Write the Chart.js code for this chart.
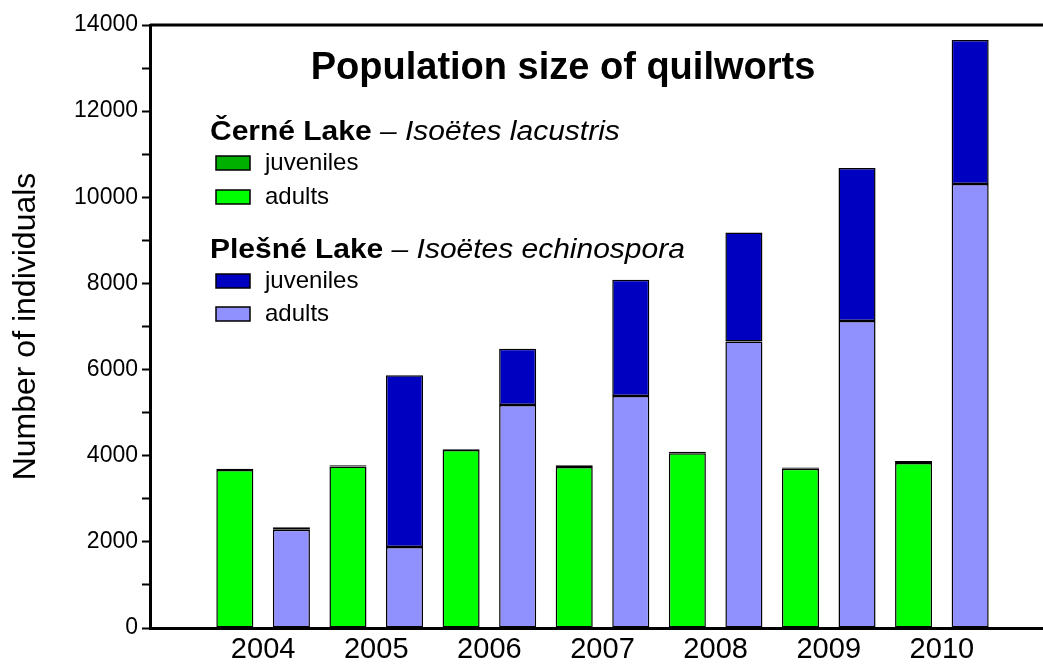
<!DOCTYPE html>
<html>
<head>
<meta charset="utf-8">
<title>Population size of quilworts</title>
<script src="https://cdn.jsdelivr.net/npm/chart.js@4/dist/chart.umd.min.js"></script>
<style>
  html, body { margin: 0; padding: 0; overflow: hidden; background: #fff; }
  canvas { display: block; }
</style>
</head>
<body>
<canvas id="quillworts" width="1060" height="664"></canvas>
<script>
const years = ['2004', '2005', '2006', '2007', '2008', '2009', '2010'];

// Černé Lake – Isoëtes lacustris
const cerneAdults = [3670, 3750, 4130, 3740, 4060, 3700, 3830];
const cerneJuveniles = [30, 30, 20, 40, 30, 25, 45];

// Plešné Lake – Isoëtes echinospora
const plesneAdults = [2280, 1880, 5180, 5385, 6650, 7130, 10310];
const plesneJuveniles = [60, 3990, 1305, 2700, 2530, 3550, 3340];

const FONT = "'Liberation Sans', Arial, Helvetica, sans-serif";

const colors = {
  cerneJuv: '#00b000',
  cerneAdu: '#00ff00',
  plesneJuv: '#0000c0',
  plesneAdu: '#9090ff'
};

// empty slot on both ends so the first group sits away from the y axis
const pad = arr => [null].concat(arr, [null]);

function barSet(label, data, color, stack) {
  return {
    label: label,
    data: pad(data),
    stack: stack,
    backgroundColor: color,
    borderColor: '#000',
    borderWidth: 1.5,
    borderSkipped: false,
    categoryPercentage: 1.0,
    barPercentage: 0.655
  };
}

// title, frame top and the two-part legend drawn over the plot
const overlayPlugin = {
  id: 'overlay',
  afterDraw(chart) {
    const ctx = chart.ctx;
    const area = chart.chartArea;
    ctx.save();

    ctx.strokeStyle = '#000';
    ctx.lineWidth = 3;
    ctx.beginPath();
    ctx.moveTo(area.left, area.top);
    ctx.lineTo(area.right, area.top);
    ctx.stroke();

    ctx.fillStyle = '#000';
    ctx.textBaseline = 'alphabetic';
    ctx.textAlign = 'center';
    ctx.font = 'bold 38px ' + FONT;
    ctx.fillText('Population size of quilworts', 563, 79);

    ctx.textAlign = 'left';
    // headings are set a little wider than normal
    const heading = (x, y, bold, rest) => {
      ctx.save();
      ctx.translate(x, y);
      ctx.scale(1.11, 1);
      ctx.font = 'bold 27px ' + FONT;
      ctx.fillText(bold, 0, 0);
      const w = ctx.measureText(bold).width;
      ctx.font = 'italic 27px ' + FONT;
      ctx.fillText(rest, w, 0);
      ctx.restore();
    };
    const item = (y, color, text) => {
      ctx.fillStyle = color;
      ctx.fillRect(216, y - 7, 34, 14);
      ctx.strokeStyle = '#000';
      ctx.lineWidth = 1.5;
      ctx.strokeRect(216, y - 7, 34, 14);
      ctx.fillStyle = '#000';
      ctx.font = '24px ' + FONT;
      ctx.textBaseline = 'middle';
      ctx.fillText(text, 265, y);
      ctx.textBaseline = 'alphabetic';
    };

    heading(210, 140, 'Černé Lake', ' \u2013 Isoëtes lacustris');
    item(163, colors.cerneJuv, 'juveniles');
    item(197, colors.cerneAdu, 'adults');
    heading(210, 258, 'Plešné Lake', ' \u2013 Isoëtes echinospora');
    item(281, colors.plesneJuv, 'juveniles');
    item(314, colors.plesneAdu, 'adults');

    ctx.restore();
  }
};

new Chart(document.getElementById('quillworts').getContext('2d'), {
  type: 'bar',
  data: {
    labels: pad(years).map(y => y || ''),
    datasets: [
      barSet('Černé adults', cerneAdults, colors.cerneAdu, 'cerne'),
      barSet('Černé juveniles', cerneJuveniles, colors.cerneJuv, 'cerne'),
      barSet('Plešné adults', plesneAdults, colors.plesneAdu, 'plesne'),
      barSet('Plešné juveniles', plesneJuveniles, colors.plesneJuv, 'plesne')
    ]
  },
  options: {
    responsive: false,
    animation: false,
    layout: { padding: { top: 25, right: 5, left: 0, bottom: 0 } },
    plugins: {
      legend: { display: false },
      title: { display: false },
      tooltip: { enabled: false }
    },
    scales: {
      x: {
        stacked: true,
        offset: false,
        grid: { display: false, drawTicks: false },
        border: { display: true, color: '#000', width: 3 },
        ticks: {
          color: '#000',
          font: { family: FONT, size: 29 },
          padding: 5,
          maxRotation: 0,
          autoSkip: false
        },
        afterFit(scale) { scale.height = 36; }
      },
      y: {
        stacked: true,
        min: 0,
        max: 14000,
        grid: {
          display: true,
          drawOnChartArea: false,
          drawTicks: true,
          tickLength: 8,
          tickWidth: 2,
          tickColor: '#000'
        },
        border: { display: true, color: '#000', width: 3 },
        ticks: {
          stepSize: 1000,
          color: '#000',
          padding: 4,
          font: { family: FONT, size: 23 },
          callback: v => (v % 2000 === 0 ? String(v) : '')
        },
        title: {
          display: true,
          text: 'Number of individuals',
          color: '#000',
          font: { family: FONT, size: 32 },
          padding: { top: 7, bottom: 0 }
        },
        afterFit(scale) { scale.width = 150; }
      }
    }
  },
  plugins: [overlayPlugin]
});
</script>
</body>
</html>
